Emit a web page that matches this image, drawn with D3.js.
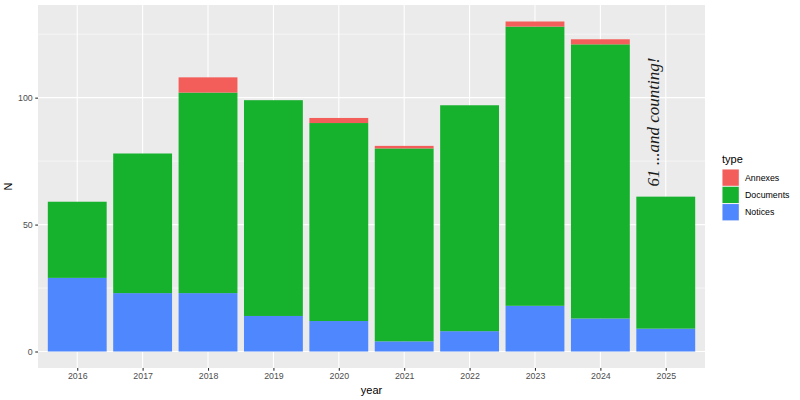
<!DOCTYPE html>
<html><head><meta charset="utf-8">
<script src="https://cdn.jsdelivr.net/npm/d3@7"></script>
<style>body{margin:0;background:#fff}svg{display:block}</style>
</head><body>
<svg id="chart" width="800" height="400"></svg>
<script>
const years = ["2016","2017","2018","2019","2020","2021","2022","2023","2024","2025"];
const notices   = [29, 23, 23, 14, 12, 4, 8, 18, 13, 9];
const documents = [30, 55, 79, 85, 78, 76, 89, 110, 108, 52];
const annexes   = [0, 0, 6, 0, 2, 1, 0, 2, 2, 0];
const types = ["Annexes","Documents","Notices"];
const typeColors = ["#F35E5A","#16B12D","#4F87FE"];
const yTicks = [0, 50, 100];
const yMinor = [25, 75, 125];
const annotation = "61 ...and counting!";
const annotationValue = 65;

const svg = d3.select("#chart");
const P = {l:38, r:705, t:5, b:368};

// ggplot: expansion 0.6 units each side, bar width 0.9
const unit = (P.r - P.l) / (years.length - 1 + 1.2);
const xPos = d3.scalePoint().domain(years).range([P.l + unit*0.6, P.r - unit*0.6]);
const cx = yr => xPos(yr);
const y = d3.scaleLinear().domain([-6.5, 136.5]).range([P.b, P.t]);

const rows = years.map((yr,i)=>({year:yr, Notices:notices[i], Documents:documents[i], Annexes:annexes[i]}));
const stack = d3.stack().keys(["Notices","Documents","Annexes"])(rows);
const color = d3.scaleOrdinal().domain(types).range(typeColors);

svg.append("rect").attr("x",P.l).attr("y",P.t).attr("width",P.r-P.l).attr("height",P.b-P.t).attr("fill","#EBEBEB");

const g = svg.append("g");
yMinor.forEach(v=>g.append("line").attr("x1",P.l).attr("x2",P.r).attr("y1",y(v)).attr("y2",y(v)).attr("stroke","#fff").attr("stroke-width",0.55));
yTicks.forEach(v=>g.append("line").attr("x1",P.l).attr("x2",P.r).attr("y1",y(v)).attr("y2",y(v)).attr("stroke","#fff").attr("stroke-width",1.1));
years.forEach(yr=>g.append("line").attr("x1",cx(yr)).attr("x2",cx(yr)).attr("y1",P.t).attr("y2",P.b).attr("stroke","#fff").attr("stroke-width",1.1));

stack.forEach(s=>{
  g.selectAll(null).data(s.filter(d=>d[1]>d[0])).enter().append("rect")
    .attr("x",d=>cx(d.data.year)-unit*0.45)
    .attr("width",unit*0.9)
    .attr("y",d=>y(d[1]))
    .attr("height",d=>y(d[0])-y(d[1]))
    .attr("fill",color(s.key));
});

// annotation
const last = years[years.length-1];
svg.append("text")
  .attr("transform",`translate(${cx(last)-7},${y(annotationValue)}) rotate(-90)`)
  .attr("font-family","Liberation Serif, serif").attr("font-style","italic").attr("font-size",17)
  .attr("fill","#1a1a1a").text(annotation);

// axes
const xAxis = d3.axisBottom(xPos).tickSize(2.75).tickPadding(2.5);
const xa = svg.append("g").attr("transform",`translate(0,${P.b})`).call(xAxis);
const yAxis = d3.axisLeft(y).tickValues(yTicks).tickSize(2.75).tickPadding(2.5);
const ya = svg.append("g").attr("transform",`translate(${P.l},0)`).call(yAxis);
[xa,ya].forEach(a=>{
  a.select(".domain").remove();
  a.selectAll(".tick line").attr("stroke","#333").attr("stroke-width",1.1);
  a.selectAll(".tick text").attr("fill","#4D4D4D").attr("font-family","Liberation Sans, Arial, sans-serif").attr("font-size",8.8);
});

svg.append("text").attr("x",(P.l+P.r)/2).attr("y",394).attr("text-anchor","middle")
  .attr("font-family","Liberation Sans, Arial, sans-serif").attr("font-size",11).attr("fill","#000").text("year");
svg.append("text").attr("transform",`translate(12,${(P.t+P.b)/2}) rotate(-90)`).attr("text-anchor","middle")
  .attr("font-family","Liberation Sans, Arial, sans-serif").attr("font-size",11).attr("fill","#000").text("N");

// legend
const lg = svg.append("g").attr("transform","translate(722,0)");
lg.append("text").attr("x",0).attr("y",163).attr("font-family","Liberation Sans, Arial, sans-serif").attr("font-size",11).text("type");
types.forEach((t,i)=>{
  const ky = 169 + i*17.28;
  lg.append("rect").attr("x",0).attr("y",ky).attr("width",17.28).attr("height",17.28).attr("fill","#F2F2F2");
  lg.append("rect").attr("x",0.5).attr("y",ky+0.5).attr("width",16.28).attr("height",16.28).attr("fill",color(t));
  lg.append("text").attr("x",23).attr("y",ky+8.64).attr("dy","0.35em").attr("font-family","Liberation Sans, Arial, sans-serif").attr("font-size",8.8).attr("fill","#000").text(t);
});
</script>
</body></html>
